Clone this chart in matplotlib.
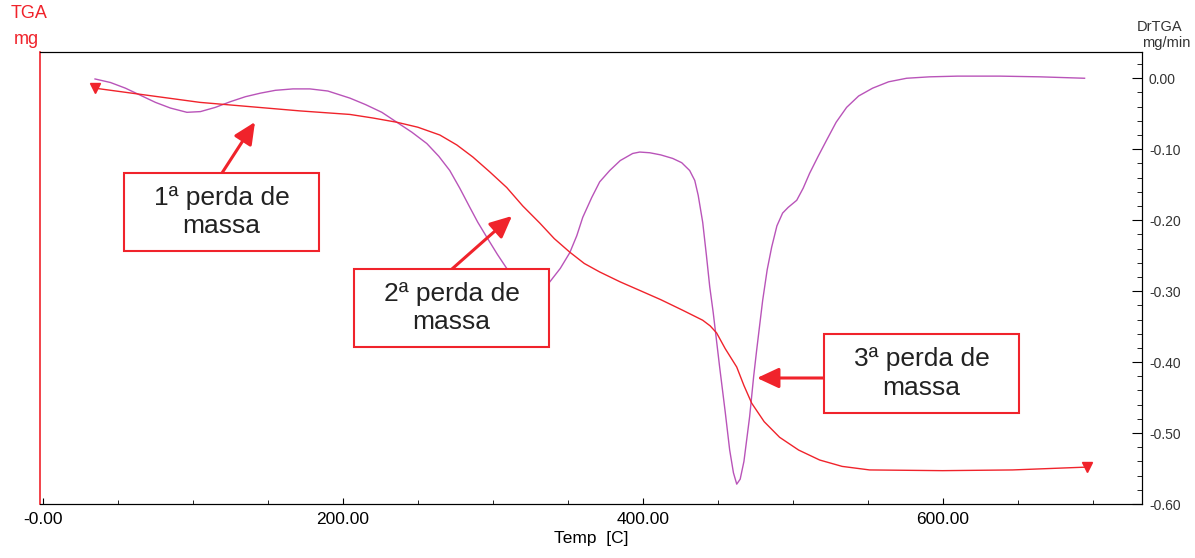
import matplotlib.pyplot as plt
from matplotlib.patches import Rectangle
from matplotlib.ticker import FixedLocator, MultipleLocator

plt.rcParams['font.family'] = ['Liberation Sans', 'DejaVu Sans']

# TGA curve (arbitrary scale, shown without ticks)
temp_tga = [34.7, 104.7, 171.3, 204.7, 220, 236, 250, 264.7, 276, 286.7, 298, 309.3,
            320, 331.3, 341, 351.3, 361, 371.3, 385, 398, 412, 426.7, 440, 445, 449.3,
            455, 462.7, 467.5, 472.7, 481, 491.3, 504, 518, 533, 551.3, 600, 646.7, 696]
tga = [-0.014, -0.034, -0.046, -0.051, -0.056, -0.062, -0.069, -0.080, -0.094, -0.111,
       -0.132, -0.154, -0.180, -0.204, -0.226, -0.245, -0.261, -0.273, -0.287, -0.299,
       -0.312, -0.327, -0.341, -0.349, -0.359, -0.381, -0.407, -0.433, -0.458, -0.484,
       -0.506, -0.524, -0.538, -0.547, -0.552, -0.553, -0.552, -0.548]

# DrTGA curve (mg/min)
temp_dr = [34.7, 45, 55, 65, 75, 85, 96, 105, 115, 125, 135, 145, 155, 166.7, 178, 190,
           204.7, 215, 226, 236, 246, 256, 264, 271.3, 278, 284.7, 290, 296, 303, 309.3,
           316, 323, 330, 338, 345, 351.3, 356, 360, 366, 371.3, 378, 385, 393.3, 398,
           404.7, 412, 420, 426, 431.3, 434.7, 437, 440, 442.5, 444.7, 447, 451.3, 455,
           458, 460.5, 462.7, 465, 467.5, 471.3, 474, 476, 480, 483, 486, 489.5, 493.3,
           497, 502.7, 507, 511.3, 517, 522.7, 529, 536, 544, 553.3, 564, 576, 591.3,
           610, 638, 665, 694.7]
drtga = [-0.001, -0.006, -0.014, -0.024, -0.034, -0.042, -0.048, -0.047, -0.041, -0.033,
         -0.026, -0.021, -0.017, -0.015, -0.015, -0.018, -0.028, -0.037, -0.048, -0.062,
         -0.076, -0.092, -0.110, -0.130, -0.155, -0.182, -0.203, -0.224, -0.248, -0.268,
         -0.287, -0.299, -0.299, -0.287, -0.268, -0.246, -0.222, -0.196, -0.168, -0.146,
         -0.130, -0.116, -0.106, -0.104, -0.105, -0.108, -0.113, -0.119, -0.130, -0.144,
         -0.165, -0.203, -0.250, -0.294, -0.330, -0.407, -0.470, -0.524, -0.556, -0.572,
         -0.565, -0.540, -0.477, -0.420, -0.383, -0.313, -0.270, -0.238, -0.208, -0.190,
         -0.182, -0.172, -0.155, -0.134, -0.110, -0.087, -0.062, -0.041, -0.025, -0.014,
         -0.005, 0.000, 0.002, 0.003, 0.003, 0.002, 0.000]

xticks = [0, 200, 400, 600]
xtick_labels = ["-0.00", "200.00", "400.00", "600.00"]
yticks = [0.0, -0.1, -0.2, -0.3, -0.4, -0.5, -0.6]
ytick_labels = ["0.00", "-0.10", "-0.20", "-0.30", "-0.40", "-0.50", "-0.60"]

red = '#f0232b'
purple = '#b954b9'
W, H = 1195, 558

fig = plt.figure(figsize=(W / 100, H / 100), dpi=100)
ax = fig.add_axes([40 / W, 1 - 504 / H, 1102 / W, 452 / H])
ax2 = ax.twinx()

ax.plot(temp_tga, tga, color=red, lw=1.0, zorder=3)
ax.plot([temp_tga[0], temp_tga[-1]], [tga[0], tga[-1]], 'v', color=red, ms=7, zorder=4)
ax2.plot(temp_dr, drtga, color=purple, lw=1.0)

for a in (ax, ax2):
    a.set_xlim(-2, 733)
    a.set_ylim(-0.6, 0.037)

ax.set_zorder(2)
ax.patch.set_visible(False)

ax.set_yticks([])
ax.spines['left'].set_color(red)
ax.spines['left'].set_linewidth(1.2)
ax.xaxis.set_major_locator(FixedLocator(xticks))
ax.set_xticklabels(xtick_labels)
ax.xaxis.set_minor_locator(MultipleLocator(50))
ax.tick_params(axis='x', which='both', direction='in', labelsize=12.5, pad=6)
ax.tick_params(axis='x', which='major', length=4)
ax.tick_params(axis='x', which='minor', length=3)
ax.set_xlabel("Temp  [C]", fontsize=12.5, labelpad=3)

ax2.yaxis.set_major_locator(FixedLocator(yticks))
ax2.set_yticklabels(ytick_labels)
ax2.yaxis.set_minor_locator(MultipleLocator(0.02))
ax2.tick_params(axis='y', which='both', direction='in', labelsize=10, pad=5,
                labelcolor='#333333')
ax2.tick_params(axis='y', which='major', length=7)
ax2.tick_params(axis='y', which='minor', length=3.5)
ax2.spines['left'].set_visible(False)

fig.text(29 / W, 1 - 14 / H, "TGA", color=red, fontsize=13, ha='center', va='center')
fig.text(26 / W, 1 - 40 / H, "mg", color=red, fontsize=13, ha='center', va='center')
fig.text(1160 / W, 1 - 27 / H, "DrTGA", color='#333333', fontsize=10.5, ha='center', va='center')
fig.text(1166 / W, 1 - 43 / H, "mg/min", color='#333333', fontsize=10.5, ha='center', va='center')

boxes = [
    ("1ª perda de\nmassa", (124, 173, 319, 251), (222, 173), (255, 122)),
    ("2ª perda de\nmassa", (354, 269, 549, 347), (452, 269), (512, 216)),
    ("3ª perda de\nmassa", (824, 334, 1019, 413), (824, 378), (757, 378)),
]
for label, (x0, y0, x1, y1), tail, head in boxes:
    fig.patches.append(Rectangle((x0 / W, 1 - y1 / H), (x1 - x0) / W, (y1 - y0) / H,
                                 transform=fig.transFigure, facecolor='white',
                                 edgecolor=red, lw=1.5, zorder=5))
    fig.text((x0 + x1) / 2 / W, 1 - (y0 + y1) / 2 / H, label, fontsize=19,
             ha='center', va='center', color='#222222', linespacing=1.22, zorder=6)
    ax.annotate("", xy=(head[0] / W, 1 - head[1] / H), xycoords='figure fraction',
                xytext=(tail[0] / W, 1 - tail[1] / H), textcoords='figure fraction',
                arrowprops=dict(arrowstyle='-|>,head_length=0.6,head_width=0.28',
                                color=red, lw=2.2, mutation_scale=22,
                                shrinkA=0, shrinkB=0), zorder=6)

fig.savefig("out.png", dpi=100)
